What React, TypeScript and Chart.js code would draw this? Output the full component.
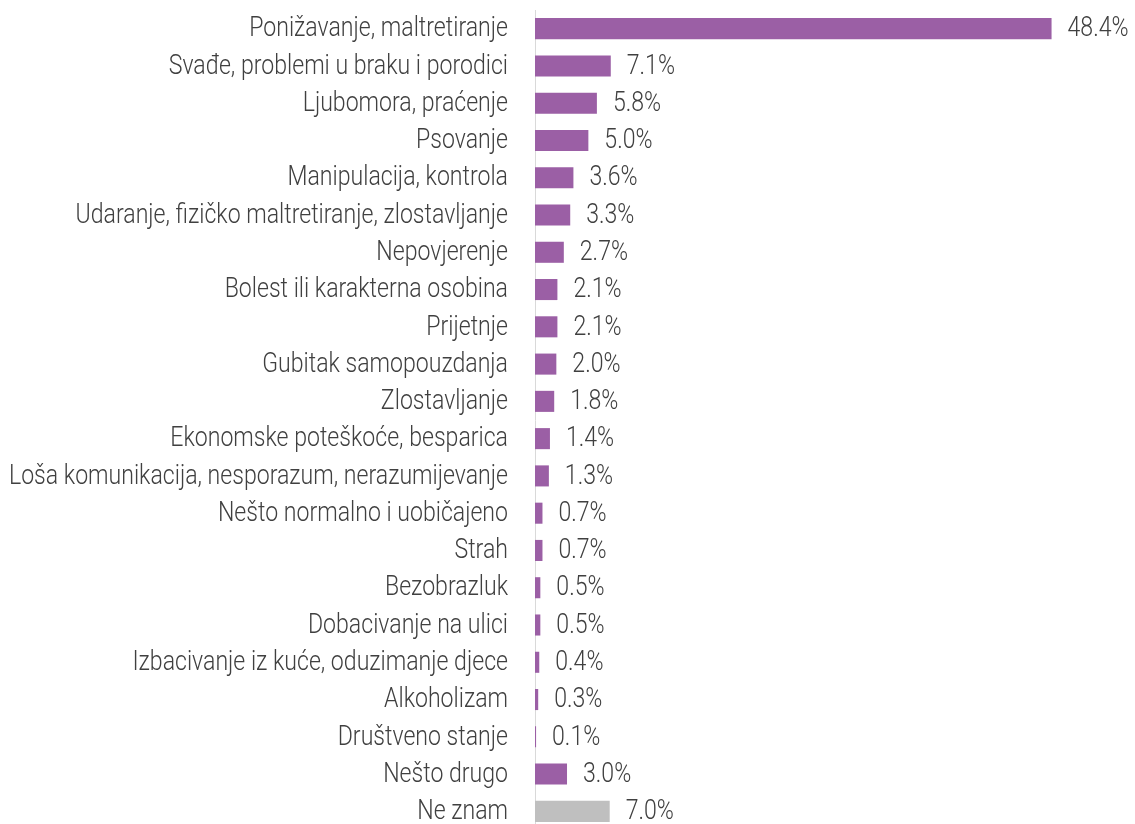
import React, { useEffect, useRef } from "react";
import { Chart, registerables } from "chart.js";

Chart.register(...registerables);

const categories = [
  "Ponižavanje, maltretiranje",
  "Svađe, problemi u braku i porodici",
  "Ljubomora, praćenje",
  "Psovanje",
  "Manipulacija, kontrola",
  "Udaranje, fizičko maltretiranje, zlostavljanje",
  "Nepovjerenje",
  "Bolest ili karakterna osobina",
  "Prijetnje",
  "Gubitak samopouzdanja",
  "Zlostavljanje",
  "Ekonomske poteškoće, besparica",
  "Loša komunikacija, nesporazum, nerazumijevanje",
  "Nešto normalno i uobičajeno",
  "Strah",
  "Bezobrazluk",
  "Dobacivanje na ulici",
  "Izbacivanje iz kuće, oduzimanje djece",
  "Alkoholizam",
  "Društveno stanje",
  "Nešto drugo",
  "Ne znam",
];

const values = [48.4, 7.1, 5.8, 5.0, 3.6, 3.3, 2.7, 2.1, 2.1, 2.0, 1.8, 1.4, 1.3, 0.7, 0.7, 0.5, 0.5, 0.4, 0.3, 0.1, 3.0, 7.0];

const PURPLE = "#9b5fa5";
const GRAY = "#bfbfbf";
const barColors = categories.map((c) => (c === "Ne znam" ? GRAY : PURPLE));

const FONT = "300 27px Roboto, 'Liberation Sans', sans-serif";
const SX = 0.855;
const TEXT_COLOR = "#404040";

const textPlugin = {
  id: "textPlugin",
  afterDatasetsDraw(chart: any) {
    const ctx = chart.ctx;
    const meta = chart.getDatasetMeta(0);
    const yScale = chart.scales.y;
    ctx.save();
    ctx.fillStyle = TEXT_COLOR;
    ctx.font = FONT;
    ctx.textBaseline = "middle";
    meta.data.forEach((bar: any, i: number) => {
      const v = chart.data.datasets[0].data[i] as number;
      // value label
      ctx.save();
      ctx.translate(bar.x + 16, bar.y + 1);
      ctx.scale(SX, 1);
      ctx.textAlign = "left";
      ctx.fillText(v.toFixed(1) + "%", 0, 0);
      ctx.restore();
      // category label
      ctx.save();
      ctx.translate(yScale.right - 27, bar.y + 1);
      ctx.scale(SX, 1);
      ctx.textAlign = "right";
      ctx.fillText(String(chart.data.labels[i]), 0, 0);
      ctx.restore();
    });
    ctx.restore();
  },
};

export default function App() {
  const ref = useRef<HTMLCanvasElement | null>(null);
  useEffect(() => {
    document.body.style.margin = "0";
    const chart = new Chart(ref.current as HTMLCanvasElement, {
      type: "bar",
      data: {
        labels: categories,
        datasets: [
          {
            data: values,
            backgroundColor: barColors,
            barPercentage: 0.565,
            categoryPercentage: 1,
          },
        ],
      },
      options: {
        indexAxis: "y",
        animation: false,
        responsive: false,
        maintainAspectRatio: false,
        layout: { padding: { top: 10, right: 13, bottom: 0, left: 0 } },
        plugins: { legend: { display: false }, tooltip: { enabled: false } },
        scales: {
          x: { display: false, min: 0, max: 55 },
          y: {
            afterFit(scale: any) {
              scale.width = 535;
              scale.paddingTop = 0;
              scale.paddingBottom = 0;
            },
            grid: { display: false, drawTicks: false },
            border: { display: true, color: "#d9d9d9", width: 1 },
            ticks: { display: false, autoSkip: false },
          },
        },
      },
      plugins: [textPlugin],
    });
    return () => chart.destroy();
  }, []);
  return <canvas ref={ref} width={1135} height={830} style={{ display: "block" }} />;
}
